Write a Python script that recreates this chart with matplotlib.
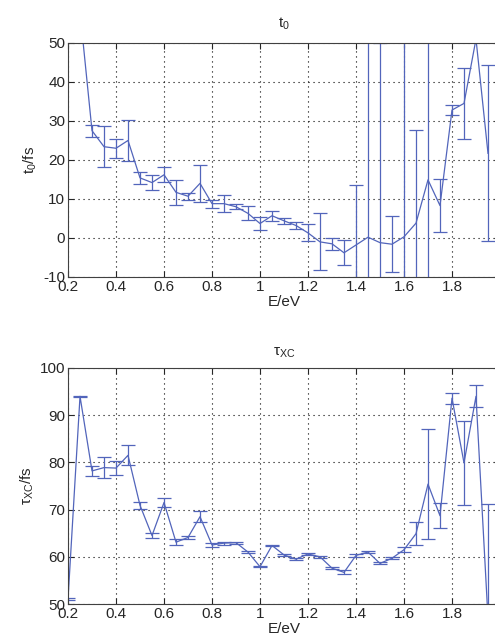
import numpy as np
import matplotlib
matplotlib.use('Agg')
import matplotlib.pyplot as plt

plt.rcParams['font.family'] = ['Liberation Sans', 'DejaVu Sans']
plt.rcParams['mathtext.fontset'] = 'custom'
plt.rcParams['mathtext.rm'] = 'Liberation Sans'
plt.rcParams['mathtext.it'] = 'Liberation Sans'
plt.rcParams['axes.unicode_minus'] = False
plt.rcParams['font.size'] = 11

# --- data ---
e_t0 = [0.25, 0.30, 0.35, 0.40, 0.45, 0.50, 0.55, 0.60, 0.65, 0.70,
        0.75, 0.80, 0.85, 0.90, 0.95, 1.00, 1.05, 1.10, 1.15, 1.20,
        1.25, 1.30, 1.35, 1.40, 1.45, 1.50, 1.55, 1.60, 1.65, 1.70,
        1.75, 1.80, 1.85, 1.90, 1.95]
t0 = [58.0, 27.5, 23.4, 23.0, 25.0, 15.4, 14.2, 16.2, 11.7, 10.7,
      14.0, 8.8, 8.8, 8.0, 6.3, 3.7, 5.7, 4.4, 3.2, 1.3,
      -1.0, -1.5, -3.8, -1.8, 0.2, -1.2, -1.6, 0.3, 3.8, 14.9,
      8.3, 32.8, 34.5, 51.0, 21.7]
t0_err = [0.0, 1.5, 5.2, 2.4, 5.2, 1.6, 1.9, 1.9, 3.2, 0.9,
          4.7, 1.0, 2.2, 0.6, 1.8, 1.6, 1.3, 0.8, 0.8, 2.2,
          7.3, 1.6, 3.2, 15.4, 60.0, 51.2, 7.2, 60.0, 24.0, 60.0,
          6.7, 1.2, 9.2, 0.0, 22.6]

e_tau = [0.20, 0.25, 0.30, 0.35, 0.40, 0.45, 0.50, 0.55, 0.60, 0.65,
         0.70, 0.75, 0.80, 0.85, 0.90, 0.95, 1.00, 1.05, 1.10, 1.15,
         1.20, 1.25, 1.30, 1.35, 1.40, 1.45, 1.50, 1.55, 1.60, 1.65,
         1.70, 1.75, 1.80, 1.85, 1.90, 1.95]
tau = [51.0, 94.0, 78.2, 78.9, 78.8, 81.5, 70.9, 64.5, 71.5, 63.1,
       64.1, 68.5, 62.5, 62.9, 63.0, 61.0, 57.9, 62.4, 60.4, 59.5,
       60.6, 60.0, 57.6, 56.7, 60.3, 61.0, 58.6, 59.7, 61.5, 64.9,
       75.4, 68.7, 93.6, 79.9, 94.0, 47.0]
tau_err = [0.2, 0.1, 1.0, 2.2, 1.4, 2.1, 0.8, 0.6, 0.9, 0.6,
           0.35, 1.2, 0.4, 0.3, 0.2, 0.2, 0.15, 0.2, 0.2, 0.2,
           0.2, 0.2, 0.2, 0.4, 0.3, 0.2, 0.2, 0.2, 0.5, 2.4,
           11.6, 2.6, 1.2, 8.9, 2.3, 24.2]

x_ticks = [0.2, 0.4, 0.6, 0.8, 1.0, 1.2, 1.4, 1.6, 1.8]
x_ticklabels = ['0.2', '0.4', '0.6', '0.8', '1', '1.2', '1.4', '1.6', '1.8']

line_col = '#5265bb'
text_col = '#262626'


def style_axes(ax, yticks):
    ax.set_xlim(0.2, 2.0)
    ax.set_xticks(x_ticks)
    ax.set_xticklabels(x_ticklabels)
    ax.set_yticks(yticks)
    ax.grid(True, color='black', linestyle=(0, (1, 3.5)), linewidth=0.8)
    ax.tick_params(direction='in', top=True, right=True, length=4,
                   width=0.8, colors=text_col, labelsize=11, pad=2)
    for s in ax.spines.values():
        s.set_color('#404040')
        s.set_linewidth(0.8)


fig = plt.figure(figsize=(4.95, 6.41), dpi=100)

# --- t0 panel ---
ax1 = fig.add_axes([0.1374, 0.5679, 0.8727, 0.3651])
ax1.errorbar(e_t0, t0, yerr=t0_err, color=line_col, linewidth=0.9,
             elinewidth=0.9, capsize=5, capthick=0.9)
ax1.set_ylim(-10, 50)
style_axes(ax1, [-10, 0, 10, 20, 30, 40, 50])
ax1.set_title(r'$\mathrm{t_0}$', fontsize=11, color=text_col, pad=11)
ax1.set_xlabel('E/eV', fontsize=11, color=text_col, labelpad=1)
ax1.set_ylabel(r'$\mathrm{t_0}$/fs', fontsize=11, color=text_col, labelpad=3)

# --- tau_XC panel ---
ax2 = fig.add_axes([0.1374, 0.0577, 0.8727, 0.3682])
ax2.errorbar(e_tau, tau, yerr=tau_err, color=line_col, linewidth=0.9,
             elinewidth=0.9, capsize=5, capthick=0.9)
ax2.set_ylim(50, 100)
style_axes(ax2, [50, 60, 70, 80, 90, 100])
ax2.set_title(r'$\tau_{\mathrm{XC}}$', fontsize=11, color=text_col, pad=9)
ax2.set_xlabel('E/eV', fontsize=11, color=text_col, labelpad=1)
ax2.set_ylabel(r'$\tau_{\mathrm{XC}}$/fs', fontsize=11, color=text_col, labelpad=3)

fig.savefig('out.png', dpi=100)
